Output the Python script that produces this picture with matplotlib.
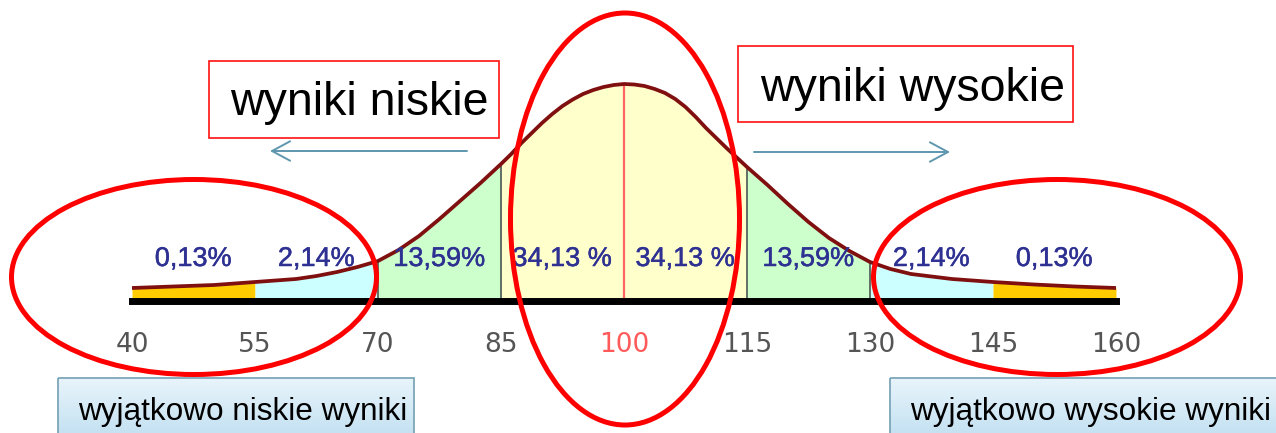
import numpy as np
import matplotlib
matplotlib.use('Agg')
import matplotlib.pyplot as plt
import matplotlib.patheffects as pe
from matplotlib.patches import Ellipse, Rectangle
from matplotlib.colors import LinearSegmentedColormap

# curve (score -> height above the base line)
score = [40, 45, 50, 55, 60, 62.5, 65, 67.5, 70, 72.5, 75, 77.5, 80, 82.5, 85,
         86.25, 87.5, 88.75, 90, 91.25, 92.5, 93.75, 95, 96.25, 97.5, 98.75,
         100, 101.25, 102.5, 103.75, 105, 106.25, 107.5, 108.75, 110, 111.25,
         112.5, 113.75, 115, 117.5, 120, 122.5, 125, 127.5, 130, 132.5, 135,
         140, 145, 150, 155, 160]
height = [13, 14.5, 16, 19, 22, 25, 29, 34, 40, 51, 65, 82, 100, 118, 137,
          147, 158, 168, 178, 187, 195, 201.5, 207, 211, 214, 216,
          217, 216.5, 215, 212, 208, 202, 194, 184, 173, 163,
          153, 143.5, 134, 116, 97, 79, 63, 50, 39, 32, 27,
          22, 19, 16.5, 14.5, 13]

bounds = [40, 55, 70, 85, 100, 115, 130, 145, 160]
tick_labels = ['40', '55', '70', '85', '100', '115', '130', '145', '160']
shares = ['0,13%', '2,14%', '13,59%', '34,13 %', '34,13 %', '13,59%', '2,14%', '0,13%']
band_colors = ['#FFCC00', '#CCFFFF', '#CCFFCC', '#FFFFCC',
               '#FFFFCC', '#CCFFCC', '#CCFFFF', '#FFCC00']

W, H = 1276, 433
fig = plt.figure(figsize=(W / 100, H / 100), dpi=100)

ax = fig.add_axes([132 / W, (H - 301) / H, 984 / W, 250 / H])
ax.set_xlim(40, 160)
ax.set_ylim(0, 250)
for s in ax.spines.values():
    s.set_visible(False)
ax.patch.set_alpha(0)

x = np.array(score)
y = np.array(height)
for i in range(8):
    m = (x >= bounds[i]) & (x <= bounds[i + 1])
    ax.fill_between(x[m], 0, y[m], color=band_colors[i], lw=0)

for b in [70, 85, 115, 130]:
    ax.plot([b, b], [0, height[score.index(b)]], color='#56645a', lw=1.3)
ax.plot([100, 100], [0, height[score.index(100)]], color='#ff6464', lw=1.6)

ax.plot(x, y, color='#801010', lw=2.7, solid_capstyle='round', solid_joinstyle='round')
ax.plot([40, 160], [0, 0], color='black', lw=5, solid_capstyle='projecting', clip_on=False)

ax.set_xticks(bounds, tick_labels)
ax.set_yticks([])
ax.tick_params(axis='x', length=0, pad=22, labelsize=19, labelcolor='#555555')
ax.get_xticklabels()[4].set_color('#ff5a5a')

for i, s in enumerate(shares):
    ax.text((bounds[i] + bounds[i + 1]) / 2, 35, s, ha='center', va='baseline',
            color='#2e3192', fontsize=19.5, family='Liberation Sans',
            path_effects=[pe.withStroke(linewidth=0.35, foreground='#2e3192')])

# overlay in pixel coordinates for boxes, arrows and ellipses
ov = fig.add_axes([0, 0, 1, 1])
ov.set_xlim(0, W)
ov.set_ylim(H, 0)
ov.axis('off')
ov.patch.set_alpha(0)

ov.add_patch(Rectangle((209, 61), 290, 77, facecolor='white', edgecolor='#ff1010', lw=1.2))
ov.text(230, 115, 'wyniki niskie', fontsize=33.5, va='baseline', family='Liberation Sans')
ov.add_patch(Rectangle((738, 46), 335, 76, facecolor='white', edgecolor='#ff1010', lw=1.2))
ov.text(760, 101, 'wyniki wysokie', fontsize=33.5, va='baseline', family='Liberation Sans')

arrow = dict(arrowstyle='->,head_length=1.3,head_width=0.7', color='#5e97ae', lw=1.4,
             shrinkA=0, shrinkB=0, mutation_scale=10)
ov.annotate('', xy=(270, 151), xytext=(467, 151), arrowprops=arrow)
ov.annotate('', xy=(950, 152), xytext=(754, 152), arrowprops=arrow)

cmap = LinearSegmentedColormap.from_list('box', ['#e8f4fb', '#b4d9ee'])
grad = np.linspace(0, 1, 60).reshape(-1, 1)
for x0, w, label, tx in [(58, 356, 'wyjątkowo niskie wyniki', 78),
                         (890, 400, 'wyjątkowo wysokie wyniki', 910)]:
    ov.imshow(grad, cmap=cmap, extent=(x0, x0 + w, 460, 378), aspect='auto', zorder=1)
    ov.add_patch(Rectangle((x0, 378), w, 82, facecolor='none', edgecolor='#7da6b8', lw=1.3, zorder=2))
    ov.text(tx, 420, label, fontsize=22.7, va='baseline', family='Liberation Sans', zorder=3)
ov.set_xlim(0, W)
ov.set_ylim(H, 0)

for cx, cy, ew, eh in [(194, 277, 365, 195), (625, 219, 229, 412), (1057, 277, 367, 195)]:
    ov.add_patch(Ellipse((cx, cy), ew, eh, fill=False, edgecolor='#ff0000', lw=3.6, zorder=4))

fig.savefig('out.png', dpi=100)
